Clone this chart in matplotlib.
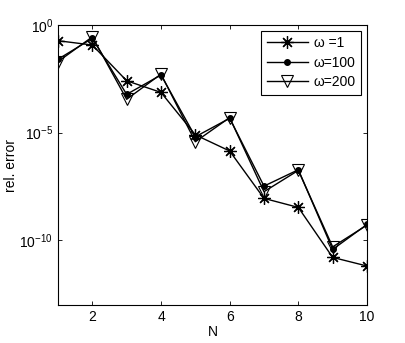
import numpy as np
import matplotlib
matplotlib.use("Agg")
import matplotlib.pyplot as plt
from matplotlib.ticker import FixedLocator, NullLocator

plt.rcParams['font.family'] = ['Liberation Sans', 'DejaVu Sans']
plt.rcParams['mathtext.fontset'] = 'custom'
plt.rcParams['mathtext.rm'] = 'Liberation Sans'
plt.rcParams['mathtext.it'] = 'Liberation Sans'

N = [1, 2, 3, 4, 5, 6, 7, 8, 9, 10]
# log10 of the relative error
err_w1 = [-0.73, -0.93, -2.59, -3.13, -5.1, -5.85, -8.05, -8.47, -10.79, -11.19]
err_w100 = [-1.59, -0.62, -3.22, -2.32, -5.19, -4.33, -7.48, -6.72, -10.42, -9.26]
err_w200 = [-1.70, -0.55, -3.45, -2.28, -5.42, -4.30, -7.74, -6.75, -10.30, -9.29]

fig = plt.figure(figsize=(4.05, 3.43), dpi=100)
ax = fig.add_axes([58/405, 1 - 305/343, 309/405, 280/343])

ax.semilogy(N, 10**np.array(err_w1), 'k-', marker=(8, 2, 0), ms=9, mew=0.9, lw=1, label='ω =1')
ax.semilogy(N, 10**np.array(err_w100), 'k-', marker='.', ms=8, lw=1, label='ω=100')
ax.semilogy(N, 10**np.array(err_w200), 'k-', marker='v', ms=9, mfc='none', mew=0.8, lw=1, label='ω=200')

ax.set_xlim(1, 10)
ax.set_ylim(1e-13, 1e0)
ax.set_xticks([2, 4, 6, 8, 10])
ax.yaxis.set_major_locator(FixedLocator([1e-10, 1e-5, 1e0]))
ax.yaxis.set_minor_locator(NullLocator())
ax.tick_params(direction='in', top=True, right=True, length=3, width=0.6, labelsize=10)
for s in ax.spines.values():
    s.set_linewidth(0.8)

ax.set_xlabel('N', fontsize=10, labelpad=1)
ax.set_ylabel('rel. error', fontsize=10, labelpad=1)

leg = ax.legend(loc='upper right', fontsize=10, fancybox=False, edgecolor='k',
                framealpha=1, handlelength=3, borderaxespad=0.4, labelspacing=0.4,
                handletextpad=0.4, borderpad=0.4)
leg.get_frame().set_linewidth(0.8)

fig.savefig('out.png', dpi=100)
